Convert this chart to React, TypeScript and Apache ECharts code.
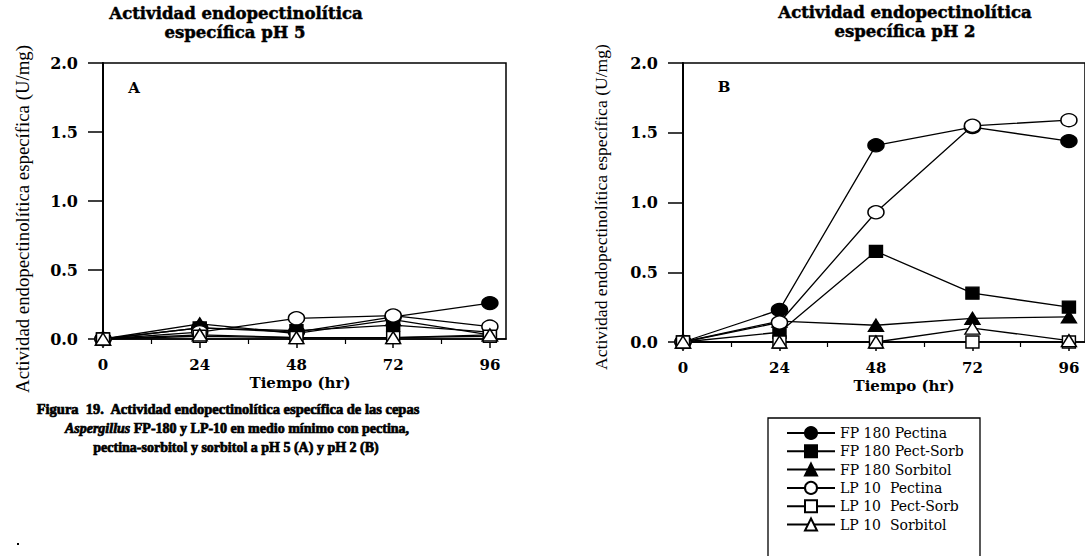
import React, { useEffect, useRef } from "react";
import * as echarts from "echarts";

const hours = [0, 24, 48, 72, 96];
const majorTicks = [0, 24, 48, 72, 96];
const minorTicks = [12, 36, 60, 84];

const seriesNames = [
  "FP 180 Pectina",
  "FP 180 Pect-Sorb",
  "FP 180 Sorbitol",
  "LP 10  Pectina",
  "LP 10  Pect-Sorb",
  "LP 10  Sorbitol",
];

// pH 5 (A)
const pH5_FP180_Pectina = [0, 0.08, 0.05, 0.16, 0.26];
const pH5_FP180_PectSorb = [0, 0.08, 0.06, 0.1, 0.05];
const pH5_FP180_Sorbitol = [0, 0.11, 0.04, 0.14, 0.03];
const pH5_LP10_Pectina = [0, 0.05, 0.15, 0.17, 0.09];
const pH5_LP10_PectSorb = [0, 0.02, 0.01, 0.01, 0.02];
const pH5_LP10_Sorbitol = [0, 0.03, 0.01, 0.01, 0.03];

// pH 2 (B)
const pH2_FP180_Pectina = [0, 0.23, 1.41, 1.54, 1.44];
const pH2_FP180_PectSorb = [0, 0.07, 0.65, 0.35, 0.25];
const pH2_FP180_Sorbitol = [0, 0.15, 0.12, 0.17, 0.18];
const pH2_LP10_Pectina = [0, 0.14, 0.93, 1.55, 1.59];
const pH2_LP10_PectSorb = [0, 0, 0, 0, 0];
const pH2_LP10_Sorbitol = [0, 0, 0, 0.1, 0.01];

const panelA = [pH5_FP180_Pectina, pH5_FP180_PectSorb, pH5_FP180_Sorbitol, pH5_LP10_Pectina, pH5_LP10_PectSorb, pH5_LP10_Sorbitol];
const panelB = [pH2_FP180_Pectina, pH2_FP180_PectSorb, pH2_FP180_Sorbitol, pH2_LP10_Pectina, pH2_LP10_PectSorb, pH2_LP10_Sorbitol];

const markerStyles = [
  { symbol: "circle", size: [16, 13], fill: "#000" },
  { symbol: "rect", size: [13, 12], fill: "#000" },
  { symbol: "triangle", size: [15, 12], fill: "#000" },
  { symbol: "circle", size: [16, 13], fill: "#fff" },
  { symbol: "rect", size: [13, 12], fill: "#fff" },
  { symbol: "triangle", size: [15, 12], fill: "#fff" },
];

const SERIF = "Liberation Serif";
const HEAVY = "DejaVu Serif";

function buildOption() {
  const grids = [
    { left: 103, top: 63, width: 403, height: 276 },
    { left: 683, top: 63, width: 406, height: 279 },
  ].map((g) => ({ ...g, show: true, borderColor: "#000", borderWidth: 1.5, backgroundColor: "transparent" }));

  const xAxes: any[] = [];
  const yAxes: any[] = [];
  [0, 1].forEach((gi) => {
    xAxes.push({
      gridIndex: gi,
      type: "value",
      min: 0,
      max: 100,
      axisLine: { show: true, onZero: false, lineStyle: { color: "#000", width: 1.5 } },
      axisTick: { show: true, customValues: majorTicks, length: 9, lineStyle: { color: "#000", width: 1.5 } },
      axisLabel: {
        customValues: majorTicks,
        margin: 18,
        color: "#000",
        fontFamily: HEAVY,
        fontWeight: "bold",
        fontSize: 15,
      },
      splitLine: { show: false },
    });
    xAxes.push({
      gridIndex: gi,
      type: "value",
      min: 0,
      max: 100,
      position: "bottom",
      axisLine: { show: false },
      axisTick: { show: true, customValues: minorTicks, length: 5, lineStyle: { color: "#000", width: 1.2 } },
      axisLabel: { show: false },
      splitLine: { show: false },
    });
    yAxes.push({
      gridIndex: gi,
      type: "value",
      min: 0,
      max: 2,
      interval: 0.5,
      axisLine: { show: true, lineStyle: { color: "#000", width: 2 } },
      axisTick: { show: true, length: 15, lineStyle: { color: "#000", width: 1.5 } },
      axisLabel: {
        formatter: (v: number) => v.toFixed(1),
        margin: 25,
        color: "#000",
        fontFamily: HEAVY,
        fontWeight: "bold",
        fontSize: 16,
      },
      splitLine: { show: false },
    });
  });

  const series: any[] = [];
  [panelA, panelB].forEach((panel, gi) => {
    panel.forEach((vals, si) => {
      const m = markerStyles[si];
      series.push({
        type: "line",
        name: seriesNames[si],
        xAxisIndex: gi * 2,
        yAxisIndex: gi,
        data: hours.map((h, i) => [h, vals[i]]),
        symbol: m.symbol,
        symbolSize: m.size,
        showAllSymbol: true,
        itemStyle: { color: m.fill, borderColor: "#000", borderWidth: 1.4 },
        lineStyle: { color: "#000", width: 1.3 },
        emphasis: { disabled: true },
      });
    });
  });

  const heavyTitle = (text: string, x: number, y: number) => ({
    type: "text",
    x,
    y,
    style: {
      text,
      align: "center",
      verticalAlign: "middle",
      fontFamily: HEAVY,
      fontWeight: "bold",
      fontSize: 16.5,
      fill: "#000",
      stroke: "#000",
      lineWidth: 0.5,
    },
  });

  const captionStyle = {
    fontFamily: SERIF,
    fontWeight: "bold",
    fontSize: 14.5,
    fill: "#000",
    stroke: "#000",
    lineWidth: 0.7,
    verticalAlign: "middle",
    align: "center",
  };

  const graphic: any[] = [
    heavyTitle("Actividad endopectinolítica", 236, 13),
    heavyTitle("específica pH 5", 235, 32),
    heavyTitle("Actividad endopectinolítica", 905, 12),
    heavyTitle("específica pH 2", 905, 31),
    {
      type: "text",
      x: 134,
      y: 88,
      style: { text: "A", align: "center", verticalAlign: "middle", fontFamily: HEAVY, fontWeight: "bold", fontSize: 15, fill: "#000" },
    },
    {
      type: "text",
      x: 724,
      y: 87,
      style: { text: "B", align: "center", verticalAlign: "middle", fontFamily: HEAVY, fontWeight: "bold", fontSize: 15, fill: "#000" },
    },
    {
      type: "text",
      x: 22,
      y: 219,
      rotation: Math.PI / 2,
      style: { text: "Actividad endopectinolítica específica (U/mg)", align: "center", verticalAlign: "middle", fontFamily: SERIF, fontSize: 18.8, fill: "#000" },
    },
    {
      type: "text",
      x: 601,
      y: 207,
      rotation: Math.PI / 2,
      style: { text: "Actividad endopectinolítica específica (U/mg)", align: "center", verticalAlign: "middle", fontFamily: SERIF, fontSize: 17.6, fill: "#000" },
    },
    {
      type: "text",
      x: 300,
      y: 383,
      style: { text: "Tiempo (hr)", align: "center", verticalAlign: "middle", fontFamily: HEAVY, fontWeight: "bold", fontSize: 15, fill: "#000" },
    },
    {
      type: "text",
      x: 904,
      y: 386,
      style: { text: "Tiempo (hr)", align: "center", verticalAlign: "middle", fontFamily: HEAVY, fontWeight: "bold", fontSize: 15, fill: "#000" },
    },
    {
      type: "text",
      x: 228,
      y: 409,
      style: { ...captionStyle, text: "Figura  19.  Actividad endopectinolítica específica de las cepas" },
    },
    {
      type: "text",
      x: 237,
      y: 428,
      style: {
        ...captionStyle,
        fontSize: 14,
        text: "{i|Aspergillus} FP-180 y LP-10 en medio mínimo con pectina,",
        rich: {
          i: { fontFamily: SERIF, fontWeight: "bold", fontStyle: "italic", fontSize: 14, fill: "#000", stroke: "#000", lineWidth: 0.7 },
        },
      },
    },
    {
      type: "text",
      x: 236,
      y: 447,
      style: { ...captionStyle, fontSize: 14, text: "pectina-sorbitol y sorbitol a pH 5 (A) y pH 2 (B)" },
    },
    {
      type: "rect",
      shape: { x: 768, y: 418, width: 212, height: 142 },
      style: { fill: "none", stroke: "#000", lineWidth: 1.3 },
    },
    {
      type: "rect",
      shape: { x: 17, y: 543, width: 2, height: 2 },
      style: { fill: "#000" },
    },
  ];

  return {
    animation: false,
    backgroundColor: "#fff",
    grid: grids,
    xAxis: xAxes,
    yAxis: yAxes,
    series,
    legend: {
      data: seriesNames,
      orient: "vertical",
      left: 781,
      top: 421,
      itemWidth: 48,
      itemHeight: 15,
      itemGap: 4.3,
      selectedMode: false,
      textStyle: { fontFamily: HEAVY, fontSize: 14, color: "#000" },
    },
    graphic,
  };
}

export default function App() {
  const ref = useRef<HTMLDivElement>(null);
  useEffect(() => {
    if (!ref.current) return;
    const chart = echarts.init(ref.current, null, { renderer: "svg" });
    chart.setOption(buildOption() as any);
    return () => chart.dispose();
  }, []);
  return <div ref={ref} style={{ position: "absolute", left: 0, top: 0, width: 1085, height: 556 }} />;
}
